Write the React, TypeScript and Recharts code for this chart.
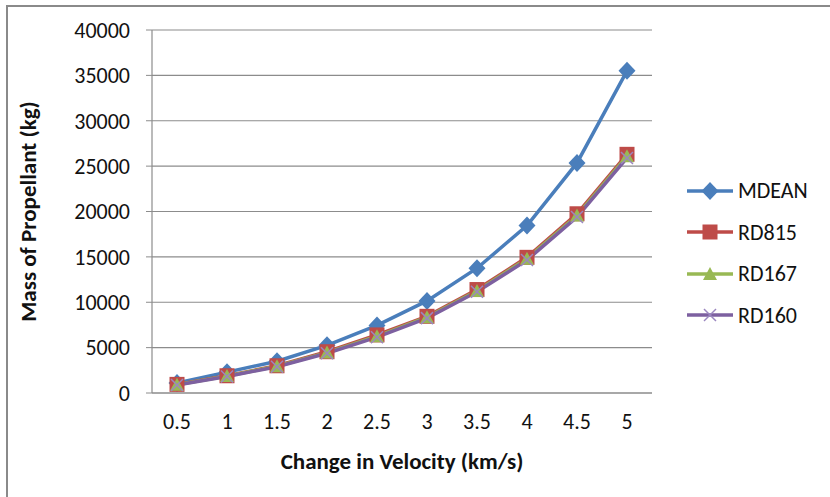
import { LineChart, Line, XAxis, YAxis, CartesianGrid, Label } from "recharts";

const velocity = ["0.5", "1", "1.5", "2", "2.5", "3", "3.5", "4", "4.5", "5"];
const mdean = [1100, 2300, 3500, 5250, 7450, 10150, 13750, 18450, 25350, 35500];
const rd815 = [950, 1900, 3000, 4550, 6400, 8450, 11400, 14950, 19750, 26300];
const rd167 = [920, 1860, 2950, 4450, 6250, 8350, 11250, 14800, 19550, 26100];
const rd160 = [880, 1820, 2900, 4380, 6150, 8250, 11150, 14650, 19400, 25900];
const yTicks = [0, 5000, 10000, 15000, 20000, 25000, 30000, 35000, 40000];

const data = velocity.map((v, i) => ({
  dv: v,
  MDEAN: mdean[i],
  RD815: rd815[i],
  RD167: rd167[i],
  RD160: rd160[i],
}));

const FONT = "Carlito, Calibri, 'Liberation Sans', Arial, sans-serif";
const GRID = "#8c8c8c";

const SERIES = [
  { key: "MDEAN", color: "#4a7ebb", marker: "diamond" },
  { key: "RD815", color: "#be4b48", marker: "square" },
  { key: "RD167", color: "#98b954", marker: "triangle" },
  { key: "RD160", color: "#7d60a0", marker: "x" },
];

function Marker({ type, cx, cy, color }: { type: string; cx: number; cy: number; color: string }) {
  if (type === "diamond") {
    return <polygon points={`${cx},${cy - 9} ${cx + 8.5},${cy} ${cx},${cy + 9} ${cx - 8.5},${cy}`} fill={color} />;
  }
  if (type === "square") {
    return <rect x={cx - 7.5} y={cy - 7.5} width={15} height={15} fill={color} />;
  }
  if (type === "triangle") {
    return <polygon points={`${cx},${cy - 7} ${cx + 7},${cy + 6} ${cx - 7},${cy + 6}`} fill={color} />;
  }
  return (
    <g stroke="#9b87c0" strokeWidth={1.5}>
      <line x1={cx - 6} y1={cy - 6} x2={cx + 6} y2={cy + 6} />
      <line x1={cx - 6} y1={cy + 6} x2={cx + 6} y2={cy - 6} />
    </g>
  );
}

function makeDot(type: string, color: string) {
  return (props: any) => {
    const { cx, cy, index } = props;
    if (cx == null || cy == null) return <g key={index} />;
    return <Marker key={index} type={type} cx={cx} cy={cy} color={color} />;
  };
}

function LegendBox() {
  return (
    <div style={{ position: "absolute", left: 685, top: 170, fontFamily: FONT, fontSize: 22, color: "#111" }}>
      {SERIES.map((s) => (
        <div key={s.key} style={{ display: "flex", alignItems: "center", height: 41.5 }}>
          <svg width={52} height={24}>
            <line x1={2} y1={12} x2={48} y2={12} stroke={s.color} strokeWidth={3.5} />
            <Marker type={s.marker} cx={25} cy={12} color={s.color} />
          </svg>
          <span style={{ marginLeft: 1 }}>{s.key}</span>
        </div>
      ))}
    </div>
  );
}

export default function App() {
  return (
    <div style={{ position: "absolute", left: 0, top: 0, width: 830, height: 497, overflow: "hidden", background: "#fff" }}>
      <div
        style={{
          position: "absolute",
          left: 6,
          top: 5,
          width: 900,
          height: 600,
          border: "2px solid #8a8a8a",
          boxSizing: "border-box",
        }}
      />
      <div style={{ position: "absolute", left: 0, top: 0 }}>
        <LineChart width={830} height={497} data={data} margin={{ top: 30, right: 178, bottom: 24, left: 72 }}>
          <CartesianGrid vertical={false} stroke={GRID} strokeWidth={1.2} />
          <XAxis
            dataKey="dv"
            padding={{ left: 25, right: 25 }}
            tickLine={false}
            axisLine={{ stroke: GRID, strokeWidth: 1.2 }}
            tick={{ fill: "#111", fontSize: 22, fontFamily: FONT }}
            tickMargin={14}
            height={80}
          >
            <Label
              value="Change in Velocity (km/s)"
              position="insideBottom"
              offset={4}
              style={{ fill: "#111", fontSize: 23, fontWeight: "bold", fontFamily: FONT }}
            />
          </XAxis>
          <YAxis
            domain={[0, 40000]}
            ticks={yTicks}
            interval={0}
            width={80}
            tickLine={{ stroke: GRID }}
            tickSize={6}
            axisLine={{ stroke: GRID, strokeWidth: 1.2 }}
            tick={{ fill: "#111", fontSize: 22, fontFamily: FONT }}
            tickMargin={16}
          >
            <Label
              value="Mass of Propellant (kg)"
              angle={-90}
              position="insideLeft"
              offset={-44}
              style={{ textAnchor: "middle", fill: "#111", fontSize: 23, fontWeight: "bold", fontFamily: FONT }}
            />
          </YAxis>
          {SERIES.map((s) => (
            <Line
              key={s.key}
              type="linear"
              dataKey={s.key}
              stroke={s.color}
              strokeWidth={3.5}
              dot={makeDot(s.marker, s.color)}
              activeDot={false}
              isAnimationActive={false}
            />
          ))}
        </LineChart>
      </div>
      <LegendBox />
    </div>
  );
}
